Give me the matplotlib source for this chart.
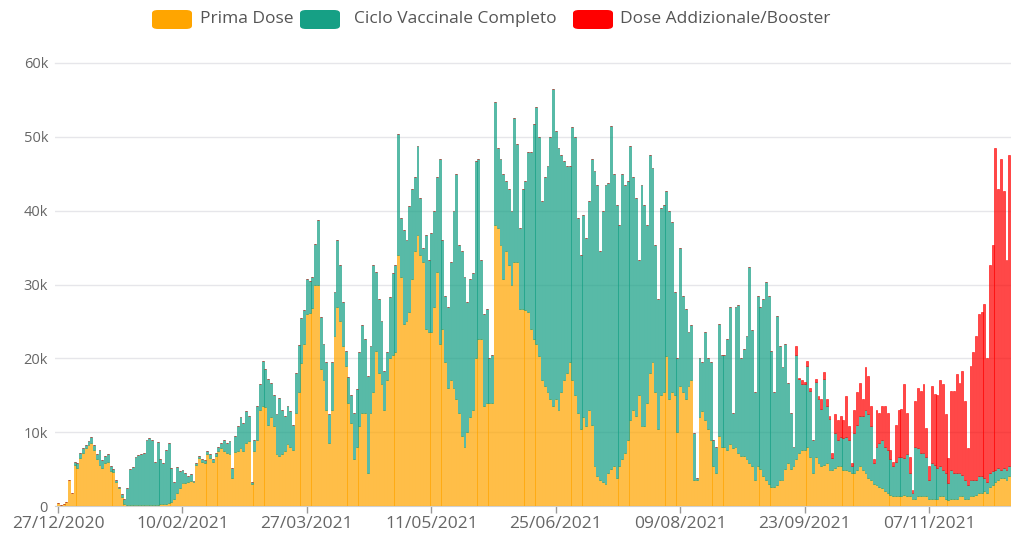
import numpy as np
import pandas as pd
import matplotlib
matplotlib.use("Agg")
import matplotlib.pyplot as plt
from matplotlib.patches import FancyBboxPatch
from matplotlib.ticker import FuncFormatter

# somministrazioni giornaliere (migliaia), dal 27/12/2020
prima = [
    0.4, 0.2, 0.3, 0.6, 3.5, 1.8, 5.6, 5.2, 6.5, 7.2,
    7.8, 8.2, 8.6, 7.6, 6.4, 5.6, 5.2, 5.8, 6.0, 4.8,
    4.6, 3.2, 2.4, 1.2, 0.3, 0.2, 0.2, 0.2, 0.2, 0.2,
    0.2, 0.2, 0.2, 0.2, 0.2, 0.2, 0.2, 0.3, 0.3, 0.3,
    0.4, 0.5, 1.0, 1.7, 2.5, 3.1, 3.1, 3.2, 3.4, 3.2,
    5.6, 6.5, 6.0, 5.8, 7.0, 6.5, 6.0, 6.8, 7.4, 7.8,
    7.5, 7.2, 7.0, 3.8, 7.3, 7.4, 7.8, 7.4, 8.6, 8.8,
    3.0, 7.5, 9.0, 13.0, 13.6, 13.4, 11.0, 12.0, 10.8, 7.0,
    6.8, 7.0, 7.4, 8.4, 8.0, 7.6, 12.6, 15.4, 19.4, 22.0,
    26.0, 26.2, 26.8, 30.0, 30.0, 18.5, 17.0, 13.0, 8.5, 13.0,
    23.0, 27.0, 25.0, 21.7, 19.0, 14.0, 11.3, 6.3, 8.0, 10.8,
    12.6, 12.6, 4.5, 12.6, 15.4, 21.0, 18.0, 16.5, 13.0, 17.0,
    20.0, 20.5, 20.8, 34.0, 31.0, 24.7, 25.0, 26.3, 30.8, 34.5,
    36.7, 34.0, 33.0, 24.0, 23.5, 23.5, 27.0, 31.7, 22.0, 24.0,
    19.5, 16.0, 17.0, 16.0, 14.5, 12.6, 9.5, 8.0, 10.0, 12.0,
    13.0, 20.0, 22.6, 22.6, 13.5, 14.0, 14.0, 14.0, 38.0, 37.6,
    35.4, 30.8, 34.5, 32.6, 30.0, 33.0, 33.0, 26.7, 26.7, 26.5,
    26.3, 24.0, 22.6, 22.0, 20.3, 17.0, 16.3, 15.5, 14.5, 13.5,
    14.5, 13.0, 15.4, 17.0, 18.0, 19.5, 17.0, 15.0, 12.6, 10.4,
    12.0, 10.8, 13.0, 11.0, 5.4, 4.0, 3.5, 3.2, 3.0, 4.5,
    5.0, 5.4, 3.8, 5.4, 6.3, 7.2, 9.0, 11.7, 13.0, 12.2,
    15.0, 10.8, 10.8, 14.0, 18.0, 19.5, 15.4, 10.4, 15.0, 15.5,
    20.3, 14.5, 15.4, 15.0, 10.0, 16.3, 15.4, 14.5, 16.3, 17.0,
    3.5, 3.5, 12.0, 12.8, 11.7, 10.4, 9.0, 5.4, 4.5, 9.5,
    8.0, 8.0, 7.6, 8.4, 7.8, 8.0, 7.2, 6.8, 6.8, 6.4,
    5.8, 5.4, 3.5, 5.4, 5.0, 4.0, 3.5, 3.0, 2.6, 2.6,
    2.8, 3.5, 3.5, 5.0, 5.8, 5.0, 5.4, 6.3, 7.2, 7.6,
    7.6, 8.0, 6.7, 4.5, 6.7, 5.8, 5.4, 5.6, 5.8, 4.9,
    4.9, 5.2, 5.4, 5.4, 4.9, 4.9, 4.7, 4.5, 4.5, 4.9,
    5.4, 4.9, 4.5, 3.8, 3.5, 3.0, 2.8, 2.6, 2.4, 2.0,
    1.7, 1.5, 1.3, 1.3, 1.3, 1.3, 1.5, 1.3, 1.3, 1.0,
    1.0, 1.3, 1.3, 1.3, 1.3, 1.0, 1.0, 1.0, 1.0, 1.3,
    1.3, 1.0, 0.8, 1.0, 1.0, 1.0, 1.3, 1.3, 1.0, 0.9,
    1.3, 1.3, 1.5, 1.7, 1.7, 2.0, 1.7, 2.6, 2.8, 3.3,
    3.5, 3.8, 3.8, 3.5, 4.0,
]

completo = [
    0.0, 0.0, 0.0, 0.0, 0.0, 0.0, 0.4, 0.6, 0.7, 0.6,
    0.5, 0.6, 0.8, 0.7, 0.6, 2.0, 1.0, 1.0, 1.0, 0.6,
    0.4, 0.3, 0.2, 0.4, 0.7, 2.2, 4.8, 5.1, 6.4, 6.7,
    6.8, 7.0, 8.8, 9.0, 8.8, 5.8, 8.5, 6.1, 5.5, 7.3,
    8.2, 4.7, 2.2, 3.6, 2.3, 1.8, 1.4, 0.8, 0.9, 0.2,
    0.2, 0.3, 0.4, 0.4, 0.4, 0.5, 0.4, 0.4, 0.6, 0.8,
    1.5, 1.4, 1.8, 1.4, 2.2, 3.4, 4.2, 3.8, 4.2, 3.4,
    0.3, 1.5, 4.6, 3.5, 6.0, 5.2, 6.2, 4.6, 4.2, 5.5,
    7.8, 6.0, 4.8, 5.1, 4.8, 3.4, 5.4, 6.4, 6.1, 4.5,
    4.8, 4.3, 4.2, 5.5, 8.8, 7.1, 5.0, 6.5, 4.0, 6.5,
    6.0, 9.0, 7.6, 5.9, 2.0, 3.5, 3.7, 6.3, 7.8, 10.0,
    11.9, 10.0, 13.1, 9.1, 17.2, 10.7, 10.0, 8.5, 5.3, 3.8,
    8.3, 11.0, 11.8, 16.4, 8.0, 12.7, 11.0, 14.3, 12.2, 10.0,
    12.1, 7.7, 2.0, 12.7, 9.8, 13.5, 13.0, 12.8, 25.0, 12.0,
    9.0, 11.0, 16.0, 24.0, 30.5, 22.8, 25.0, 23.0, 17.6, 18.8,
    18.5, 26.7, 24.4, 10.7, 12.5, 12.7, 6.0, 6.4, 16.7, 10.9,
    11.6, 14.2, 9.5, 10.4, 10.0, 19.6, 16.0, 10.9, 16.3, 17.5,
    21.7, 24.0, 29.1, 32.0, 29.7, 24.3, 28.2, 30.5, 35.5, 43.0,
    36.3, 35.5, 32.2, 29.7, 28.0, 26.5, 34.3, 35.0, 26.4, 23.6,
    27.4, 25.5, 28.3, 36.0, 40.0, 39.5, 31.0, 36.8, 40.5, 39.3,
    46.5, 39.6, 37.0, 32.6, 38.7, 36.3, 35.0, 37.1, 31.5, 29.5,
    18.3, 32.7, 30.0, 24.0, 29.6, 26.3, 20.0, 17.6, 25.4, 25.3,
    22.3, 25.5, 23.1, 14.0, 10.0, 18.7, 13.1, 12.2, 7.2, 7.5,
    6.4, 0.3, 8.0, 6.7, 11.8, 9.6, 10.5, 3.6, 3.5, 15.2,
    12.4, 12.4, 15.0, 18.6, 4.8, 19.0, 20.0, 13.2, 14.5, 16.6,
    26.6, 18.4, 11.9, 23.1, 22.0, 24.0, 26.9, 25.5, 18.4, 12.8,
    23.0, 18.2, 15.3, 17.0, 10.9, 7.6, 2.6, 14.1, 10.0, 8.9,
    8.9, 11.0, 8.9, 4.5, 10.1, 8.7, 7.8, 11.6, 7.7, 6.9,
    1.6, 4.7, 3.6, 4.0, 4.3, 4.5, 4.3, 0.9, 5.4, 6.1,
    6.8, 7.3, 8.5, 8.6, 7.3, 2.8, 5.2, 6.0, 6.6, 6.0,
    5.9, 4.8, 4.1, 4.7, 5.4, 5.4, 5.0, 5.7, 3.2, 0.7,
    7.0, 6.6, 5.9, 5.9, 5.4, 2.5, 4.8, 4.6, 4.2, 4.1,
    3.6, 3.5, 2.3, 3.9, 3.5, 3.5, 3.2, 2.9, 2.5, 1.9,
    2.2, 2.2, 2.0, 2.3, 2.3, 1.8, 1.6, 1.9, 1.9, 1.6,
    1.7, 1.1, 1.4, 1.4, 1.4,
]

# nessuna dose addizionale prima del 20/09/2021
booster = [0.0] * 267 + [
    1.3, 0.2, 0.5,
    0.3, 0.7, 0.4, 0.0, 0.4, 0.4, 1.3, 1.0, 1.0, 0.4,
    0.7, 2.5, 2.7, 2.8, 2.5, 5.5, 1.8, 0.4, 3.1, 4.4,
    4.5, 2.3, 5.8, 5.2, 2.7, 0.5, 5.0, 4.0, 4.5, 5.5,
    5.0, 1.3, 0.6, 5.0, 6.3, 6.5, 10.0, 5.6, 2.2, 0.5,
    6.2, 8.1, 8.4, 9.3, 3.9, 1.9, 10.5, 9.6, 9.8, 11.6,
    11.6, 7.9, 3.4, 10.7, 11.1, 13.4, 12.2, 14.1, 10.7, 5.1,
    15.5, 17.3, 19.5, 22.0, 22.3, 23.6, 16.7, 28.1, 30.7, 43.6,
    37.8, 42.1, 37.4, 28.4, 42.1,
]

tick_labels = ["27/12/2020", "10/02/2021", "27/03/2021", "11/05/2021",
               "25/06/2021", "09/08/2021", "23/09/2021", "07/11/2021"]
y_ticks = [0, 10, 20, 30, 40, 50, 60]

serie = ["Prima Dose", "Ciclo Vaccinale Completo", "Dose Addizionale/Booster"]
colori = ["#FFA500", "#16A085", "#FF0000"]

giorni = pd.date_range("2020-12-27", periods=len(prima), freq="D")
etichette = list(giorni.strftime("%d/%m/%Y"))
x = np.arange(len(giorni))

plt.rcParams['font.family'] = ['Open Sans', 'DejaVu Sans']

fig = plt.figure(figsize=(10.12, 5.34), dpi=100)
ax = fig.add_axes([55 / 1012, 28 / 534, 957 / 1012, 443 / 534])

a = np.array(prima)
b = np.array(completo)
c = np.array(booster)

ax.bar(x, a, width=0.68, color=matplotlib.colors.to_rgba(colori[0], 0.72),
       edgecolor=colori[0], linewidth=0.4, zorder=3)
ax.bar(x, b, bottom=a, width=0.68, color=matplotlib.colors.to_rgba(colori[1], 0.72),
       edgecolor=colori[1], linewidth=0.4, zorder=3)
ax.bar(x, c, bottom=a + b, width=0.68, color=matplotlib.colors.to_rgba(colori[2], 0.72),
       edgecolor=colori[2], linewidth=0.4, zorder=3)

ax.set_xlim(-1.1, 345)
ax.set_ylim(0, 60)
ax.set_yticks(y_ticks)
ax.yaxis.set_major_formatter(FuncFormatter(lambda v, p: "0" if v == 0 else f"{int(v)}k"))
ax.grid(axis="y", color="#e6e6ea", linewidth=1, zorder=0)
ax.yaxis.get_gridlines()[-1].set_clip_on(False)

pos = [etichette.index(t) for t in tick_labels]
ax.set_xticks(pos)
ax.set_xticklabels(tick_labels)

for s in ["top", "right", "left"]:
    ax.spines[s].set_visible(False)
ax.spines["bottom"].set_color("#d0d0d0")
ax.tick_params(axis="y", length=0, pad=5, labelsize=10.5, labelcolor="#666666")
ax.tick_params(axis="x", length=5, width=1, color="#999999", pad=2,
               labelsize=12.5, labelcolor="#666666")

# legenda in alto
leg_x = [152, 300, 573]
txt_x = [200, 354, 620]
for i in range(3):
    box = FancyBboxPatch((leg_x[i] / 1012, 1 - 29 / 534), 40 / 1012, 19 / 534,
                         boxstyle="round,pad=0,rounding_size=0.006",
                         transform=fig.transFigure, facecolor=colori[i],
                         edgecolor="none")
    fig.patches.append(box)
    fig.text(txt_x[i] / 1012, 1 - 19 / 534, serie[i], ha="left", va="center",
             fontsize=12.5, color="#555555")

fig.savefig("out.png", dpi=100)
